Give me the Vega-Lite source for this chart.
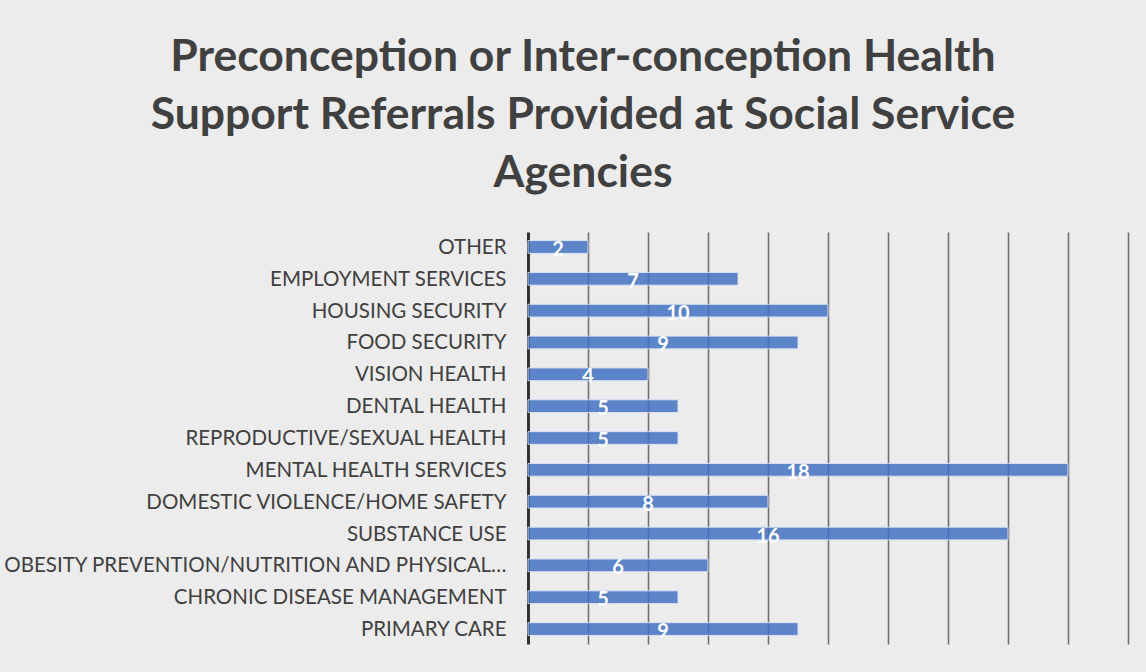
{
  "$schema": "https://vega.github.io/schema/vega-lite/v6.json",
  "width": 600,
  "height": 412,
  "autosize": "none",
  "padding": {"left": 528, "top": 232, "right": 18, "bottom": 28},
  "background": "#ececec",
  "title": {
    "text": ["Preconception or Inter-conception Health", "Support Referrals Provided at Social Service", "Agencies"],
    "font": "Lato",
    "fontSize": 44.5,
    "fontWeight": "bold",
    "color": "#404040",
    "lineHeight": 58,
    "anchor": "middle",
    "frame": "group",
    "dx": -245,
    "offset": 36
  },
  "config": {
    "view": {"stroke": null},
    "font": "Lato"
  },
  "data": {
    "values": [
      {"category": "OTHER", "count": 2},
      {"category": "EMPLOYMENT SERVICES", "count": 7},
      {"category": "HOUSING SECURITY", "count": 10},
      {"category": "FOOD SECURITY", "count": 9},
      {"category": "VISION HEALTH", "count": 4},
      {"category": "DENTAL HEALTH", "count": 5},
      {"category": "REPRODUCTIVE/SEXUAL HEALTH", "count": 5},
      {"category": "MENTAL HEALTH SERVICES", "count": 18},
      {"category": "DOMESTIC VIOLENCE/HOME SAFETY", "count": 8},
      {"category": "SUBSTANCE USE", "count": 16},
      {"category": "OBESITY PREVENTION/NUTRITION AND PHYSICAL…", "count": 6},
      {"category": "CHRONIC DISEASE MANAGEMENT", "count": 5},
      {"category": "PRIMARY CARE", "count": 9}
    ]
  },
  "encoding": {
    "y": {
      "field": "category",
      "type": "nominal",
      "sort": null,
      "scale": {"paddingInner": 0.6, "paddingOuter": 0.27},
      "axis": {
        "title": null,
        "ticks": false,
        "grid": false,
        "domain": true,
        "domainColor": "#333333",
        "domainWidth": 3,
        "labelFont": "Lato",
        "labelFontSize": 20.5,
        "labelColor": "#404040",
        "labelPadding": 22,
        "labelLimit": 528,
        "labelOffset": 1
      }
    }
  },
  "layer": [
    {
      "mark": {"type": "bar", "color": "#4472C4", "opacity": 0.85, "stroke": "#d6e0f3", "strokeWidth": 1},
      "encoding": {
        "x": {
          "field": "count",
          "type": "quantitative",
          "scale": {"domain": [0, 20], "nice": false},
          "axis": {
            "title": null,
            "labels": false,
            "ticks": false,
            "domain": false,
            "grid": true,
            "gridColor": "#707070",
            "gridWidth": 1.6,
            "values": [2, 4, 6, 8, 10, 12, 14, 16, 18, 20]
          }
        }
      }
    },
    {
      "mark": {"type": "text", "color": "white", "fontWeight": "bold", "fontSize": 20, "font": "Lato", "dy": 3},
      "encoding": {
        "x": {
          "field": "count",
          "type": "quantitative",
          "scale": {"domain": [0, 40], "nice": false},
          "axis": null
        },
        "text": {"field": "count", "type": "quantitative"}
      }
    }
  ],
  "resolve": {"scale": {"x": "independent"}, "axis": {"x": "independent"}}
}
